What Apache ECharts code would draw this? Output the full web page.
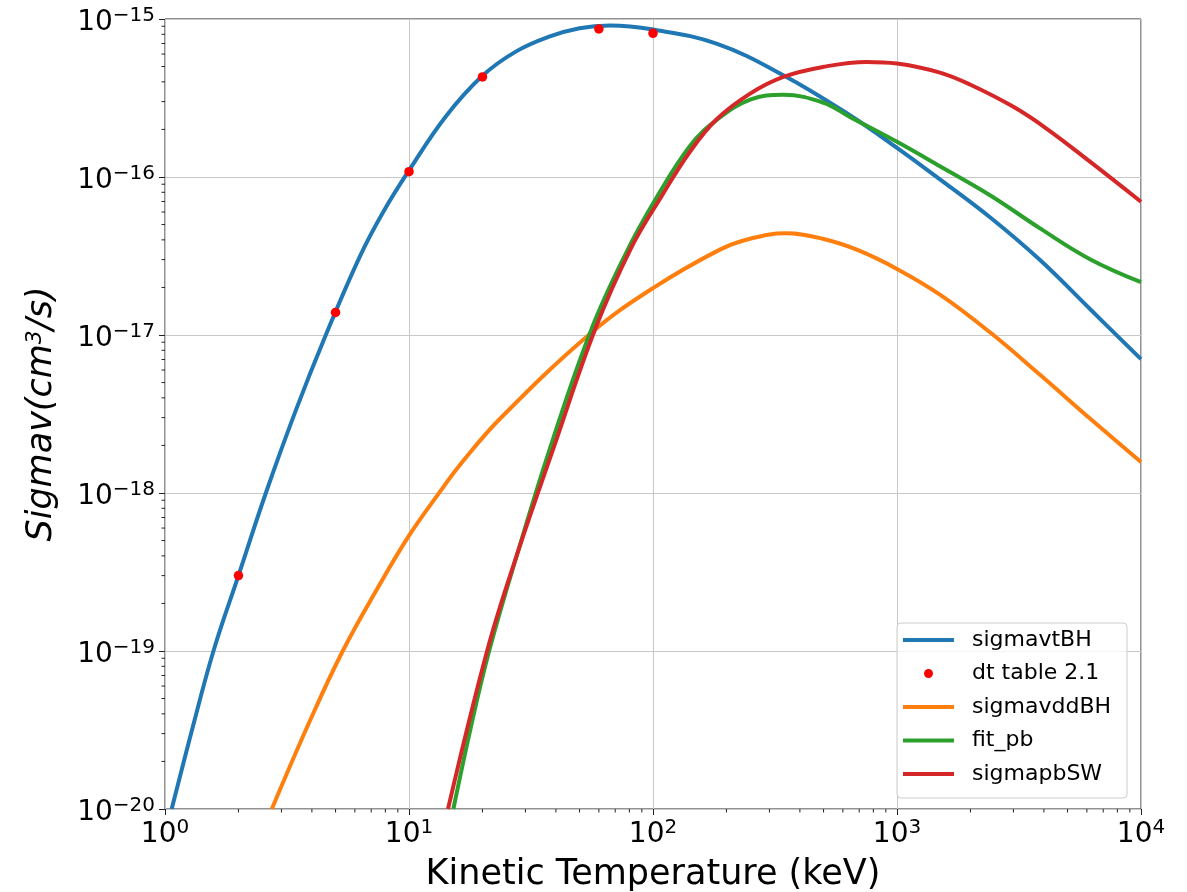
<!DOCTYPE html>
<html>
<head>
<meta charset="utf-8">
<script src="https://cdn.jsdelivr.net/npm/echarts@6/dist/echarts.min.js"></script>
<style>
  html, body { margin: 0; padding: 0; background: #ffffff; }
  #chart { width: 1187px; height: 892px; }
</style>
</head>
<body>
<div id="chart"></div>
<script>
const FONT = 'DejaVu Sans';

// Reactivity <sigma v> (cm^3/s) against kinetic temperature (keV)
const dtBH_T     = [1.065, 1.29, 1.58, 2, 2.59, 3.43, 4.56, 6.3, 7.85, 10, 14.1, 20, 27.5, 37.8, 50, 66.5, 100, 182, 342, 641, 1000, 1500, 2405, 3857, 6180, 10000];
const dtBH_sigma = [1e-20, 3.16e-20, 1e-19, 3.0e-19, 1e-18, 3.31e-18, 1e-17, 3.16e-17, 6.03e-17, 1.1e-16, 2.4e-16, 4.37e-16, 6.24e-16, 7.76e-16, 8.75e-16, 9.1e-16, 8.57e-16, 6.98e-16, 4.41e-16, 2.46e-16, 1.53e-16, 9.66e-17, 5.56e-17, 2.98e-17, 1.46e-17, 7.03e-18];

// D-T table 2.1 reference points
const tableT     = [2, 5, 10, 20, 60, 100];
const tableSigma = [3.0e-19, 1.39e-17, 1.08e-16, 4.3e-16, 8.65e-16, 8.12e-16];

const ddBH_T     = [2.74, 3.93, 5.35, 7.38, 10, 13.4, 16.2, 23.6, 55.7, 100, 188, 250, 350, 500, 700, 1000, 1500, 2405, 3857, 6180, 10000];
const ddBH_sigma = [1e-20, 3.63e-20, 1e-19, 2.45e-19, 5.37e-19, 1.02e-18, 1.51e-18, 2.95e-18, 1.03e-17, 1.98e-17, 3.47e-17, 4.07e-17, 4.4e-17, 4.05e-17, 3.42e-17, 2.62e-17, 1.8e-17, 1.04e-17, 5.6e-18, 2.96e-18, 1.57e-18];

const fitPb_T     = [15.2, 18.0, 21.3, 27.6, 37.8, 55.7, 78, 102, 142, 182, 250, 342, 500, 641, 1000, 1500, 2405, 3857, 6180, 10000];
const fitPb_sigma = [1e-20, 3.39e-20, 1e-19, 3.98e-19, 1.91e-18, 1.07e-17, 3.36e-17, 7.14e-17, 1.58e-16, 2.29e-16, 3.09e-16, 3.31e-16, 2.95e-16, 2.4e-16, 1.67e-16, 1.17e-16, 7.67e-17, 4.73e-17, 3.02e-17, 2.16e-17];

const pbSW_T     = [14.45, 20.9, 27.3, 38.9, 57.8, 81.3, 108.6, 141.9, 182.4, 250, 342, 500, 751, 998, 1500, 1991, 3000, 4111, 6180, 10000];
const pbSW_sigma = [1e-20, 1e-19, 3.8e-19, 1.88e-18, 1.08e-17, 3.55e-17, 7.59e-17, 1.45e-16, 2.32e-16, 3.37e-16, 4.3e-16, 4.98e-16, 5.35e-16, 5.23e-16, 4.58e-16, 3.85e-16, 2.78e-16, 2.02e-16, 1.25e-16, 6.97e-17];

const X_MIN = 1, X_MAX = 1e4;
const Y_MIN = 1e-20, Y_MAX = 1e-15;

const COLORS = { tBH: '#1f77b4', table: '#ff0000', ddBH: '#ff7f0e', fit: '#2ca02c', sw: '#d62728' };

const pairs = (xs, ys) => xs.map((x, i) => [x, ys[i]]);

// log-decade minor tick values (2..9 in each decade)
const minorX = [], minorY = [];
for (let e = 0; e < 4; e++) for (let m = 2; m <= 9; m++) minorX.push(m * Math.pow(10, e));
for (let e = -20; e < -15; e++) for (let m = 2; m <= 9; m++) minorY.push(m * Math.pow(10, e));
const minorTicks = minorX.map(v => [v, Y_MIN, 0]).concat(minorY.map(v => [X_MIN, v, 1]));

const MINUS = '\u2212';
function powLabel(v) {
  const e = Math.round(Math.log10(v));
  return '{b|10}{s|' + (e < 0 ? MINUS + (-e) : String(e)) + '}';
}
const tickRich = {
  b: { fontFamily: FONT, fontSize: 28, lineHeight: 34, color: '#000' },
  s: { fontFamily: FONT, fontSize: 20, lineHeight: 16, verticalAlign: 'top', color: '#000' }
};

const LINE_ICON = 'path://M0,0L51,0L51,4L0,4Z M64,0L64,4';
const DOT_ICON  = 'path://M21,4.5A4.5,4.5 0 1 0 30,4.5A4.5,4.5 0 1 0 21,4.5Z M0,0L0,9 M64,0L64,9';

const lineSeries = (name, xs, ys, color) => ({
  name, type: 'line', data: pairs(xs, ys),
  showSymbol: false, symbol: 'none', smooth: 0.4,
  lineStyle: { color, width: 4 }, itemStyle: { color },
  silent: true
});

const chart = echarts.init(document.getElementById('chart'), null, { renderer: 'canvas' });
chart.setOption({
  animation: false,
  backgroundColor: '#ffffff',
  grid: {
    left: 165, right: 46, top: 19, bottom: 83,
    outerBoundsMode: 'none', containLabel: false,
    show: true, borderColor: '#222', borderWidth: 1, backgroundColor: 'transparent'
  },
  xAxis: {
    type: 'log', logBase: 10, min: X_MIN, max: X_MAX, splitNumber: 4,
    name: 'Kinetic Temperature (keV)', nameLocation: 'middle', nameGap: 48,
    nameTextStyle: { fontFamily: FONT, fontSize: 35, color: '#000' },
    axisLine: { show: false, onZero: false },
    axisTick: { show: true, length: 6, lineStyle: { color: '#222', width: 1 } },
    axisLabel: { margin: 9, formatter: powLabel, rich: tickRich },
    splitLine: { show: true, lineStyle: { color: '#c8c8c8', width: 1 } }
  },
  yAxis: {
    type: 'log', logBase: 10, min: Y_MIN, max: Y_MAX, splitNumber: 5,
    name: '{i|Sigmav(cm}{u|3}{i|/s)}', nameLocation: 'middle', nameGap: 106, nameRotate: 90,
    nameTextStyle: {
      fontFamily: FONT, fontSize: 35, fontStyle: 'italic', color: '#000',
      rich: {
        i: { fontFamily: FONT, fontSize: 35, fontStyle: 'italic', lineHeight: 35, color: '#000' },
        u: { fontFamily: FONT, fontSize: 22, lineHeight: 23, verticalAlign: 'top', color: '#000' }
      }
    },
    axisLine: { show: false, onZero: false },
    axisTick: { show: true, length: 6, lineStyle: { color: '#222', width: 1 } },
    axisLabel: { margin: 10, formatter: powLabel, rich: tickRich, padding: [6.6, 0, 0, 0] },
    splitLine: { show: true, lineStyle: { color: '#c8c8c8', width: 1 } }
  },
  legend: {
    orient: 'vertical', left: 897, top: 623,
    padding: [6, 16, 13, 6],
    itemWidth: 64, itemHeight: 9, itemGap: 11.5,
    selectedMode: false,
    backgroundColor: 'rgba(255,255,255,0.8)', borderColor: '#cccccc', borderWidth: 1, borderRadius: 4,
    textStyle: { fontFamily: FONT, fontSize: 22, lineHeight: 22, color: '#000' },
    data: [
      { name: 'sigmavtBH',    icon: LINE_ICON, itemStyle: { color: COLORS.tBH,   borderWidth: 0 } },
      { name: 'dt table 2.1', icon: DOT_ICON,  itemStyle: { color: COLORS.table, borderWidth: 0, opacity: 1 } },
      { name: 'sigmavddBH',   icon: LINE_ICON, itemStyle: { color: COLORS.ddBH,  borderWidth: 0 } },
      { name: 'fit_pb',       icon: LINE_ICON, itemStyle: { color: COLORS.fit,   borderWidth: 0 } },
      { name: 'sigmapbSW',    icon: LINE_ICON, itemStyle: { color: COLORS.sw,    borderWidth: 0 } }
    ]
  },
  series: [
    lineSeries('sigmavtBH', dtBH_T, dtBH_sigma, COLORS.tBH),
    {
      name: 'dt table 2.1', type: 'scatter', data: pairs(tableT, tableSigma),
      symbol: 'circle', symbolSize: 9.5, itemStyle: { color: COLORS.table, opacity: 1 }, silent: true, z: 3
    },
    lineSeries('sigmavddBH', ddBH_T, ddBH_sigma, COLORS.ddBH),
    lineSeries('fit_pb', fitPb_T, fitPb_sigma, COLORS.fit),
    lineSeries('sigmapbSW', pbSW_T, pbSW_sigma, COLORS.sw),
    {
      // minor ticks along the bottom and left edges
      type: 'custom', silent: true, clip: false, z: 6,
      data: minorTicks,
      encode: { x: 0, y: 1 },
      renderItem(params, api) {
        const p = api.coord([api.value(0), api.value(1)]);
        const onY = api.value(2) === 1;
        const shape = onY
          ? { x1: p[0] - 3.5, y1: p[1], x2: p[0], y2: p[1] }
          : { x1: p[0], y1: p[1], x2: p[0], y2: p[1] + 3.5 };
        return { type: 'line', shape, style: { stroke: '#222', lineWidth: 1 } };
      }
    }
  ]
});
</script>
</body>
</html>
